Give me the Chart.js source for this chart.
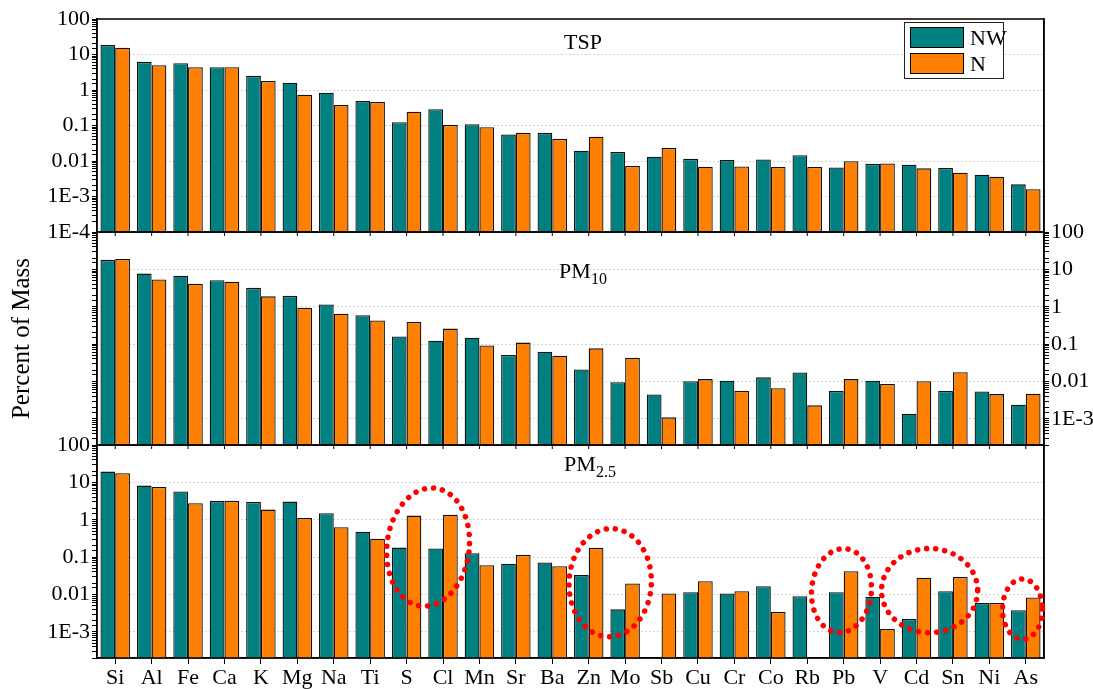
<!DOCTYPE html>
<html lang="en">
<head>
<meta charset="UTF-8">
<title>Percent of Mass - TSP / PM10 / PM2.5</title>
<script src="https://cdn.jsdelivr.net/npm/chart.js"></script>
<style>
  body { margin: 0; background: #fff; }
  #wrap { position: relative; width: 1093px; height: 689px; font-family: "Liberation Serif", serif; }
  .ttl { position: absolute; transform: translateX(-50%); font-size: 22px; color: #000; white-space: nowrap; }
  .ttl sub { font-size: 16px; vertical-align: -6px; }
  #legend { position: absolute; left: 904px; top: 22px; width: 98px; height: 55px; border: 1.5px solid #222; background: #fff; }
  #legend .row { position: absolute; left: 5px; height: 22px; }
  #legend .sw { position: absolute; left: 0; top: 0; width: 54px; height: 21px; border: 1.5px solid #000; box-sizing: border-box; }
  #legend .lb { position: absolute; left: 60px; top: -2px; font-size: 22px; }
</style>
</head>
<body>
<div id="wrap">
  <canvas id="chart" width="1093" height="689"></canvas>
  <div class="ttl" style="left:583px; top:29px;">TSP</div>
  <div class="ttl" style="left:583px; top:258px;">PM<sub>10</sub></div>
  <div class="ttl" style="left:590px; top:451px;">PM<sub>2.5</sub></div>
  <div id="legend">
    <div class="row" style="top:4px;"><div class="sw" style="background:#008080"></div><div class="lb">NW</div></div>
    <div class="row" style="top:30px;"><div class="sw" style="background:#ff8000"></div><div class="lb">N</div></div>
  </div>
</div>
<script>
// elements on the x axis
const elements = ['Si', 'Al', 'Fe', 'Ca', 'K', 'Mg', 'Na', 'Ti', 'S', 'Cl', 'Mn', 'Sr', 'Ba',
                  'Zn', 'Mo', 'Sb', 'Cu', 'Cr', 'Co', 'Rb', 'Pb', 'V', 'Cd', 'Sn', 'Ni', 'As'];

// percent of mass
const tspNW = [18.6, 6.2, 5.7, 4.4, 2.5, 1.6, 0.84, 0.49, 0.123, 0.286, 0.108, 0.056, 0.062,
               0.0195, 0.018, 0.0132, 0.0115, 0.0106, 0.011, 0.0145, 0.0066, 0.0083, 0.0079, 0.0064, 0.0041, 0.0022];
const tspN = [15.5, 5.0, 4.4, 4.4, 1.8, 0.74, 0.38, 0.46, 0.245, 0.103, 0.089, 0.062, 0.042,
              0.048, 0.0072, 0.0234, 0.0069, 0.007, 0.0068, 0.0068, 0.0098, 0.0085, 0.0062, 0.0047, 0.0036, 0.0016];
const pm10NW = [18, 7.7, 6.8, 5.1, 3.2, 1.96, 1.15, 0.59, 0.16, 0.123, 0.148, 0.051, 0.063,
                0.021, 0.0096, 0.0045, 0.0102, 0.0105, 0.0129, 0.0175, 0.0056, 0.0105, 0.00138, 0.0056, 0.0054, 0.0024];
const pm10N = [19, 5.4, 4.1, 4.7, 1.9, 0.94, 0.65, 0.43, 0.39, 0.26, 0.092, 0.11, 0.049,
               0.077, 0.043, 0.0011, 0.0116, 0.0056, 0.0066, 0.0023, 0.0116, 0.0086, 0.0102, 0.0178, 0.0046, 0.0047];
const pm25NW = [19.4, 8.2, 5.7, 3.2, 3.0, 3.06, 1.49, 0.48, 0.18, 0.17, 0.127, 0.067, 0.072,
                0.033, 0.004, null, 0.0115, 0.0106, 0.0167, 0.009, 0.0115, 0.0087, 0.0022, 0.0123, 0.0059, 0.0038];
const pm25N = [17.5, 7.5, 2.76, 3.2, 1.87, 1.12, 0.63, 0.31, 1.29, 1.37, 0.061, 0.115, 0.057,
               0.177, 0.0197, 0.0106, 0.0227, 0.0123, 0.0034, null, 0.042, 0.0012, 0.028, 0.0296, 0.0059, 0.0083];

// y tick labels (log axis)
const tickValues = [100, 10, 1, 0.1, 0.01, 0.001, 0.0001];
const tickNames = ['100', '10', '1', '0.1', '0.01', '1E-3', '1E-4'];

// red dotted rings on the PM2.5 panel: centre (category index), half width, top/bottom value
const rings = [
  { cx: 8.59, rx: 1.13, top: 7.2, bottom: 0.0048, rot: 0.12 },
  { cx: 13.59, rx: 1.13, top: 0.58, bottom: 0.00074, rot: 0.05 },
  { cx: 19.94, rx: 0.82, top: 0.17, bottom: 0.00095, rot: 0.1 },
  { cx: 22.36, rx: 1.32, top: 0.17, bottom: 0.00095, rot: 0 },
  { cx: 24.91, rx: 0.55, top: 0.026, bottom: 0.00063, rot: 0 }
];

const TEAL = '#008080', ORANGE = '#ff8000';
const FONT = { family: 'Liberation Serif', size: 22 };

function tickName(v) {
  for (let i = 0; i < tickValues.length; i++) {
    if (Math.abs(v - tickValues[i]) / tickValues[i] < 1e-6) return tickNames[i];
  }
  return '';
}
function isMajor(v) { return tickName(v) !== ''; }

function logAxis(pos, min, showLabels, drawGrid) {
  return {
    type: 'logarithmic',
    position: pos,
    stack: 'panels',
    stackWeight: 1,
    stacked: false,
    min: min,
    max: 100,
    afterFit: s => { s.width = pos === 'left' ? 97 : 49; },
    border: { display: true, color: '#000', width: 1.5, dash: [1, 3] },
    grid: {
      drawOnChartArea: drawGrid,
      color: ctx => (ctx.tick && isMajor(ctx.tick.value)) ? '#a8a8a8' : 'rgba(0,0,0,0)',
      tickColor: '#000',
      tickLength: 5,
      tickWidth: 1
    },
    ticks: {
      autoSkip: false,
      padding: 2,
      color: '#000',
      font: FONT,
      callback: v => showLabels ? tickName(v) : ''
    }
  };
}
function blankAxis(pos) {
  return {
    type: 'logarithmic', position: pos, stack: 'panels', stackWeight: 1, stacked: false,
    min: 1e-4, max: 100,
    afterFit: s => { s.width = pos === 'left' ? 97 : 49; },
    border: { display: true, color: '#000', width: 1.5 },
    grid: { display: false },
    ticks: { display: false }
  };
}

const panelIds = ['yTSP', 'yP10', 'yP25'];

const framePlugin = {
  id: 'frames',
  afterDatasetsDraw(chart) {
    const { ctx, chartArea, scales } = chart;
    const x = scales.x;
    ctx.save();
    ctx.strokeStyle = '#000';
    ctx.lineWidth = 1.5;
    panelIds.forEach((id, k) => {
      const s = scales[id];
      ctx.strokeRect(chartArea.left, s.top, chartArea.right - chartArea.left, s.bottom - s.top);
      if (k < 2) {
        ctx.lineWidth = 1;
        for (let i = 0; i < elements.length; i++) {
          const px = x.getPixelForValue(i);
          ctx.beginPath();
          ctx.moveTo(px, s.bottom);
          ctx.lineTo(px, s.bottom + 4);
          ctx.stroke();
        }
        ctx.lineWidth = 1.5;
      }
    });
    // dotted rings
    const y = scales.yP25;
    const step = x.getPixelForValue(1) - x.getPixelForValue(0);
    ctx.strokeStyle = '#ff0000';
    ctx.lineWidth = 5.5;
    ctx.lineCap = 'round';
    ctx.setLineDash([0.1, 9]);
    rings.forEach(r => {
      const cx = x.getPixelForValue(r.cx);
      const yt = y.getPixelForValue(r.top), yb = y.getPixelForValue(r.bottom);
      ctx.beginPath();
      ctx.ellipse(cx, (yt + yb) / 2, r.rx * step, (yb - yt) / 2, r.rot, 0, Math.PI * 2);
      ctx.stroke();
    });
    ctx.restore();
  }
};

function bars(label, data, color, axis, stack) {
  return {
    label: label, data: data, yAxisID: axis, stack: stack,
    backgroundColor: color, borderColor: '#111', borderWidth: 1.3,
    categoryPercentage: 0.81, barPercentage: 1.0
  };
}

new Chart(document.getElementById('chart'), {
  type: 'bar',
  data: {
    labels: elements,
    datasets: [
      bars('NW', tspNW, TEAL, 'yTSP', 'NW'),
      bars('N', tspN, ORANGE, 'yTSP', 'N'),
      bars('NW', pm10NW, TEAL, 'yP10', 'NW'),
      bars('N', pm10N, ORANGE, 'yP10', 'N'),
      bars('NW', pm25NW, TEAL, 'yP25', 'NW'),
      bars('N', pm25N, ORANGE, 'yP25', 'N')
    ]
  },
  options: {
    responsive: false,
    animation: false,
    layout: { padding: { top: 19, left: 0, right: 0, bottom: 0 } },
    plugins: { legend: { display: false }, tooltip: { enabled: false } },
    scales: {
      x: {
        type: 'category',
        offset: true,
        afterFit: s => { s.height = 31; },
        border: { display: true, color: '#000', width: 1.5 },
        grid: { drawOnChartArea: false, offset: false, tickLength: 6, tickColor: '#000' },
        ticks: { autoSkip: false, maxRotation: 0, padding: 1, color: '#000', font: FONT }
      },
      yP25: logAxis('left', 2e-4, true, true),
      yP10: Object.assign(logAxis('left', 2e-4, false, true), {
        title: { display: true, text: 'Percent of Mass', color: '#000',
                 font: { family: 'Liberation Serif', size: 25 }, padding: { top: 7, bottom: 0 } }
      }),
      yTSP: logAxis('left', 1e-4, true, true),
      yTSPR: blankAxis('right'),
      yP10R: logAxis('right', 2e-4, true, false),
      yP25R: blankAxis('right')
    }
  },
  plugins: [framePlugin]
});
</script>
</body>
</html>
